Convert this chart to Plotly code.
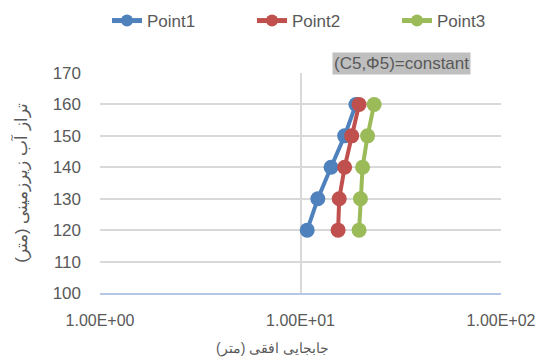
import plotly.graph_objects as go

levels = [120, 130, 140, 150, 160]
point1 = [10.8, 12.2, 14.2, 16.6, 18.9]
point2 = [15.4, 15.6, 16.6, 18.0, 19.6]
point3 = [19.6, 19.9, 20.4, 21.6, 23.3]
series_names = ["Point1", "Point2", "Point3"]
colors = ["#4F81BD", "#C0504D", "#9BBB59"]
x_tickvals = [1, 10, 100]
x_ticktext = ["1.00E+00", "1.00E+01", "1.00E+02"]
y_tickvals = [100, 110, 120, 130, 140, 150, 160, 170]

font_family = "Liberation Sans, Arial, sans-serif"
grey = "#595959"

legend_ids = ["legend", "legend2", "legend3"]
legend_x = [107, 252, 397]

fig = go.Figure()
for name, vals, col, lid in zip(series_names, [point1, point2, point3], colors, legend_ids):
    fig.add_trace(go.Scatter(
        x=vals, y=levels, name=name, mode="lines+markers",
        line=dict(color=col, width=4),
        marker=dict(color=col, size=15),
        legend=lid,
    ))

legend_common = dict(orientation="h", xref="container", xanchor="left",
                     y=1 - 21 / 359, yref="container", yanchor="middle",
                     itemsizing="constant", font=dict(size=17, color=grey),
                     bgcolor="rgba(0,0,0,0)")

fig.update_layout(
    width=540, height=359,
    margin=dict(l=100, r=39, t=73, b=66, autoexpand=False),
    paper_bgcolor="white", plot_bgcolor="white",
    font=dict(family=font_family, color=grey, size=17),
    showlegend=True,
    legend=dict(x=legend_x[0] / 540, **legend_common),
    legend2=dict(x=legend_x[1] / 540, **legend_common),
    legend3=dict(x=legend_x[2] / 540, **legend_common),
    xaxis=dict(type="log", range=[0, 2], tickvals=x_tickvals, ticktext=x_ticktext,
               showgrid=True, gridcolor="#D9D9D9", gridwidth=1.5,
               showline=True, linecolor="#B4C7E7", linewidth=1.5,
               zeroline=False, ticks="", ticklabelstandoff=12, automargin=False,
               tickfont=dict(size=16, color=grey)),
    yaxis=dict(range=[100, 170], tickvals=y_tickvals,
               showgrid=True, gridcolor="#D9D9D9", gridwidth=1.5,
               showline=False, zeroline=False, ticks="", ticklabelstandoff=18, automargin=False,
               tickfont=dict(size=17, color=grey),
               title=dict(text="تراز آب زیرزمینی (متر)", font=dict(size=17, color=grey), standoff=20)),
)

fig.add_annotation(
    x=0.751, y=1.045, xref="paper", yref="paper", xanchor="center", yanchor="middle",
    text="(C5,Φ5)=constant", showarrow=False, bgcolor="#BFBFBF", borderpad=1,
    font=dict(size=17, color=grey, family=font_family),
)
fig.add_annotation(
    x=0.43, y=-0.25, xref="paper", yref="paper", xanchor="center", yanchor="middle",
    text="جابجایی افقی (متر)", showarrow=False,
    font=dict(size=14, color=grey, family=font_family),
)

fig.write_html("out.html", config={"displayModeBar": False},
               post_script="document.body.style.margin='0';document.body.style.overflow='hidden';")
